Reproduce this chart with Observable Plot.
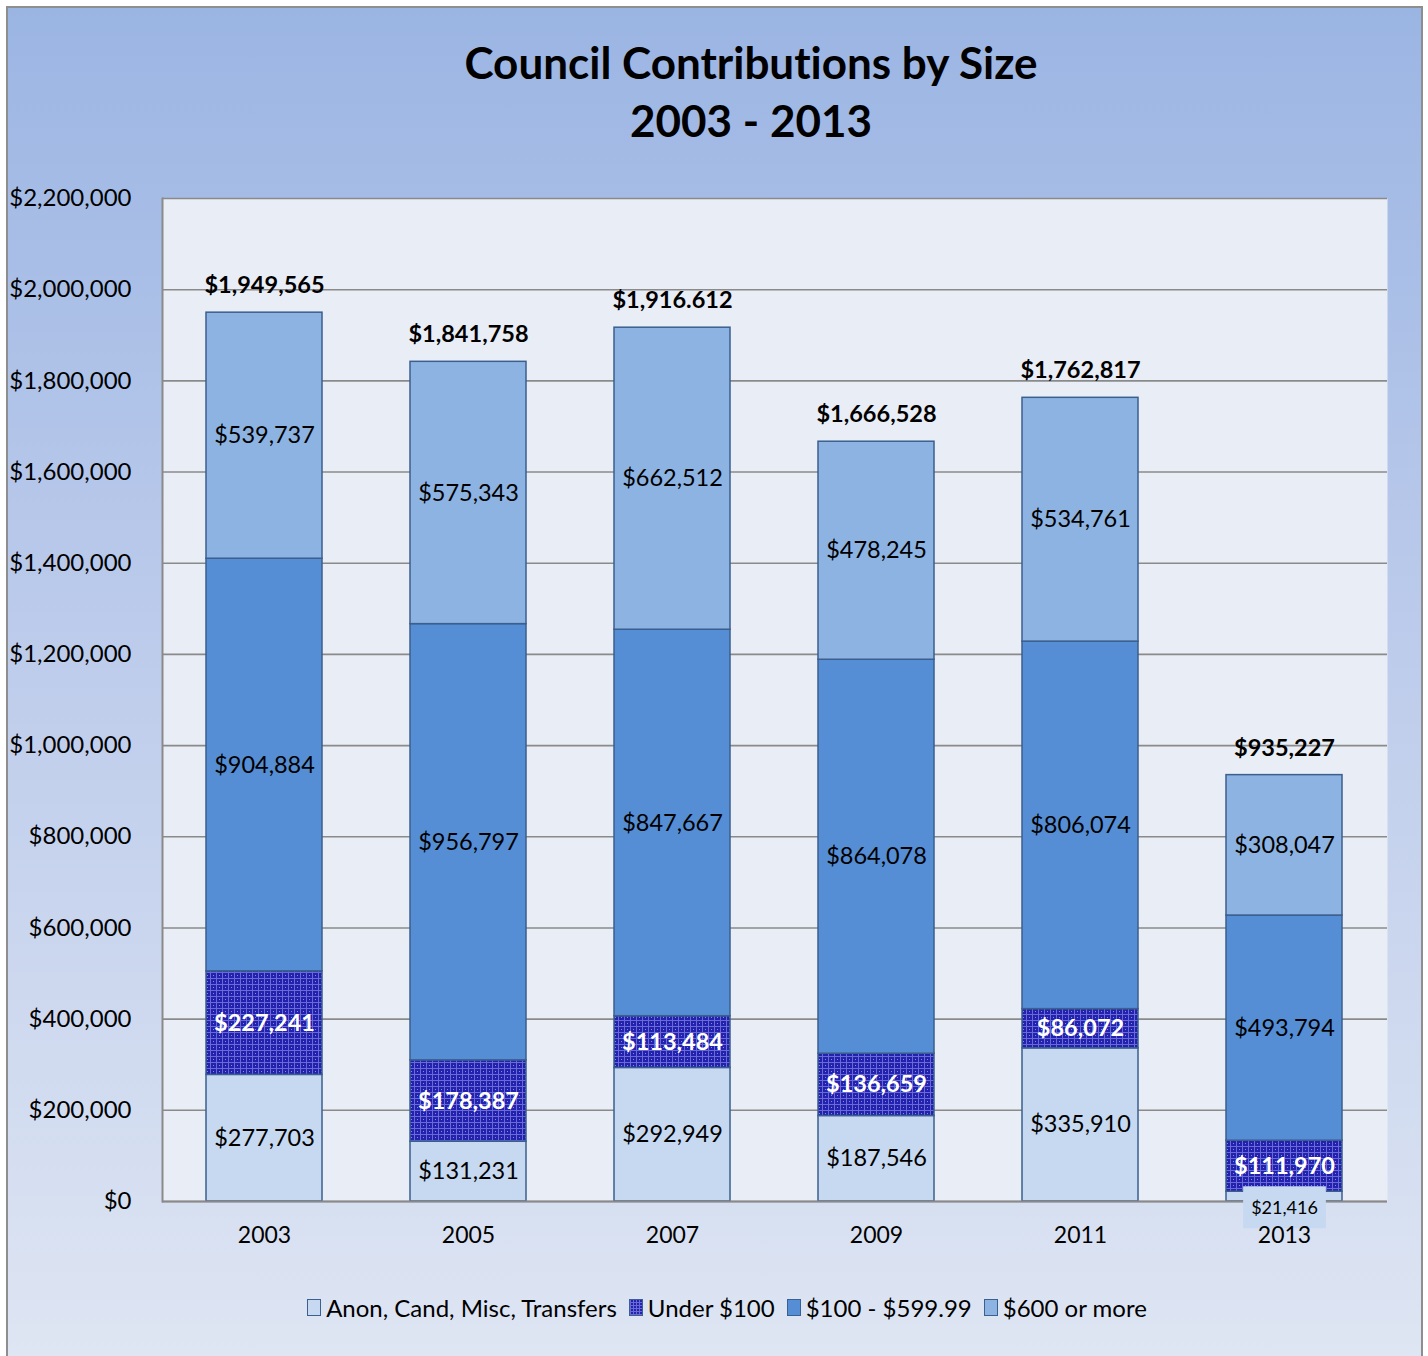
<!DOCTYPE html>
<html>
<head>
<meta charset="utf-8">
<script src="https://cdn.jsdelivr.net/npm/d3@7"></script>
<script src="https://cdn.jsdelivr.net/npm/@observablehq/plot@0.6"></script>
<style>
  html, body { margin: 0; padding: 0; background: #fff; width: 1428px; height: 1356px; overflow: hidden; }
  #wrap { position: relative; width: 1428px; height: 1356px; font-family: Lato, "Open Sans", sans-serif; font-variant-ligatures: none; }
  #frame { position: absolute; left: 6px; top: 6px; width: 1413px; height: 1370px; border: 2px solid #8e8e8e;
           background: linear-gradient(to bottom, #9bb5e3 0%, #bccbeb 45%, #dfe6f3 100%); }
  #title { position: absolute; left: 351px; top: 33px; width: 800px; text-align: center; font-weight: bold;
           font-size: 44px; line-height: 58px; color: #000; }
  #chart { position: absolute; left: 0; top: 0; }
  #chart svg text { font-variant-ligatures: none; }
  #legend { position: absolute; left: 0; width: 1454px; top: 1293px; display: flex; justify-content: center;
            align-items: center; font-size: 24px; color: #000; white-space: nowrap; }
  .item { display: flex; align-items: center; margin: 0 6px; }
  .sw { width: 12px; height: 15px; border: 1.5px solid #3b5f8e; margin-right: 5px; }
</style>
</head>
<body>
<div id="wrap">
  <div id="frame"></div>
  <div id="title">Council Contributions by Size<br>2003 - 2013</div>
  <div id="chart"></div>
  <div id="legend"></div>
</div>
<script>
// ---- data ----
const years = ["2003", "2005", "2007", "2009", "2011", "2013"];
const series = ["Anon, Cand, Misc, Transfers", "Under $100", "$100 - $599.99", "$600 or more"];
const anon = [277703, 131231, 292949, 187546, 335910, 21416];
const under100 = [227241, 178387, 113484, 136659, 86072, 111970];
const mid = [904884, 956797, 847667, 864078, 806074, 493794];
const over600 = [539737, 575343, 662512, 478245, 534761, 308047];
const totalLabels = ["$1,949,565", "$1,841,758", "$1,916.612", "$1,666,528", "$1,762,817", "$935,227"];
const yTicks = [0, 200000, 400000, 600000, 800000, 1000000, 1200000, 1400000, 1600000, 1800000, 2000000, 2200000];
const colors = ["#c6d9f1", "url(#plaid)", "#558ed5", "#8db3e2"];
const legendColors = ["#c6d9f1", "#2a2ab4", "#558ed5", "#8db3e2"];

// ---- table ----
const seriesValues = [anon, under100, mid, over600];
const rows = [];
years.forEach((yr, i) => {
  series.forEach((s, j) => rows.push({year: yr, series: s, value: seriesValues[j][i]}));
});
const totals = years.map((yr, i) => ({year: yr, total: seriesValues.reduce((a, arr) => a + arr[i], 0), label: totalLabels[i]}));

const fmt = v => "$" + d3.format(",")(v);
const small = 50000;

const plot = Plot.plot({
  width: 1428,
  height: 1356,
  marginLeft: 162,
  marginRight: 41,
  marginTop: 198,
  marginBottom: 155,
  style: {background: "transparent", fontFamily: "Lato, 'Open Sans', sans-serif", fontSize: "22px", color: "#000"},
  x: {domain: years, paddingInner: 0.43, paddingOuter: 0.215, label: null},
  y: {domain: [0, 2200000], label: null},
  color: {domain: series, range: colors},
  marks: [
    Plot.frame({fill: "#e9edf5", stroke: null}),
    Plot.ruleY(yTicks, {stroke: "#8a8a8a", strokeWidth: 1.6}),
    Plot.frame({anchor: "left", stroke: "#8a8a8a", strokeWidth: 2}),
    Plot.barY(rows, {x: "year", y: "value", fill: "series", stroke: "#3b5f8e", strokeWidth: 1.5}),
    Plot.ruleY([0], {stroke: "#8a8a8a", strokeWidth: 2}),
    Plot.axisY({ticks: yTicks, tickFormat: fmt, tickSize: 0, tickPadding: 31, fontSize: 24}),
    Plot.text(rows, Plot.stackY({x: "year", y: "value", z: "series",
      text: d => (d.series !== "Under $100" && d.value >= small) ? fmt(d.value) : null,
      fill: "#000", fontSize: 23.5})),
    Plot.text(rows, Plot.stackY({x: "year", y: "value", z: "series",
      text: d => (d.series === "Under $100") ? fmt(d.value) : null,
      fill: "#fff", fontSize: 23.5, fontWeight: "bold"})),
    Plot.text(rows, {x: "year", y: 0, className: "smalllab",
      text: d => d.value < small ? fmt(d.value) : null,
      dy: 7, fill: "#000", fontSize: 18}),
    Plot.text(totals, {x: "year", y: "total", text: "label", dy: -27, fontWeight: "bold", fontSize: 23.5, fill: "#000"}),
    Plot.axisX({tickSize: 0, tickPadding: 25, fontSize: 23})
  ]
});

// pattern for the "Under $100" series
const defs = d3.select(plot).insert("defs", ":first-child");
const pat = defs.append("pattern").attr("id", "plaid").attr("patternUnits", "userSpaceOnUse")
  .attr("width", 6).attr("height", 6);
pat.append("rect").attr("width", 6).attr("height", 6).attr("fill", "#2222ae");
pat.append("rect").attr("x", 0).attr("y", 0).attr("width", 1).attr("height", 6).attr("fill", "#6a6ad6");
pat.append("rect").attr("x", 0).attr("y", 0).attr("width", 6).attr("height", 1).attr("fill", "#6a6ad6");
pat.append("rect").attr("x", 3).attr("y", 3).attr("width", 1).attr("height", 1).attr("fill", "#8a8ae6");

document.getElementById("chart").appendChild(plot);

// background box behind the small label (drawn from the rendered text's own box)
d3.select(plot).selectAll("g.smalllab text").each(function () {
  const b = this.getBBox();
  const padX = 8, padY = 10;
  const r = d3.select(this.parentNode).insert("rect", () => this)
    .attr("x", b.x - padX).attr("y", b.y - padY)
    .attr("width", b.width + 2 * padX).attr("height", b.height + 2 * padY)
    .attr("fill", "#c6d9f1").attr("stroke", "none");
  const t = this.getAttribute("transform");
  if (t) r.attr("transform", t);
});

// legend
const legend = d3.select("#legend");
series.forEach((s, i) => {
  const it = legend.append("div").attr("class", "item");
  const sw = it.append("div").attr("class", "sw").style("background", legendColors[i]);
  if (i === 1) sw.style("background", "repeating-linear-gradient(90deg,#6a6ad6 0 1px,transparent 1px 3px), repeating-linear-gradient(0deg,#6a6ad6 0 1px,#2222ae 1px 3px)");
  it.append("span").text(s);
});
</script>
</body>
</html>
